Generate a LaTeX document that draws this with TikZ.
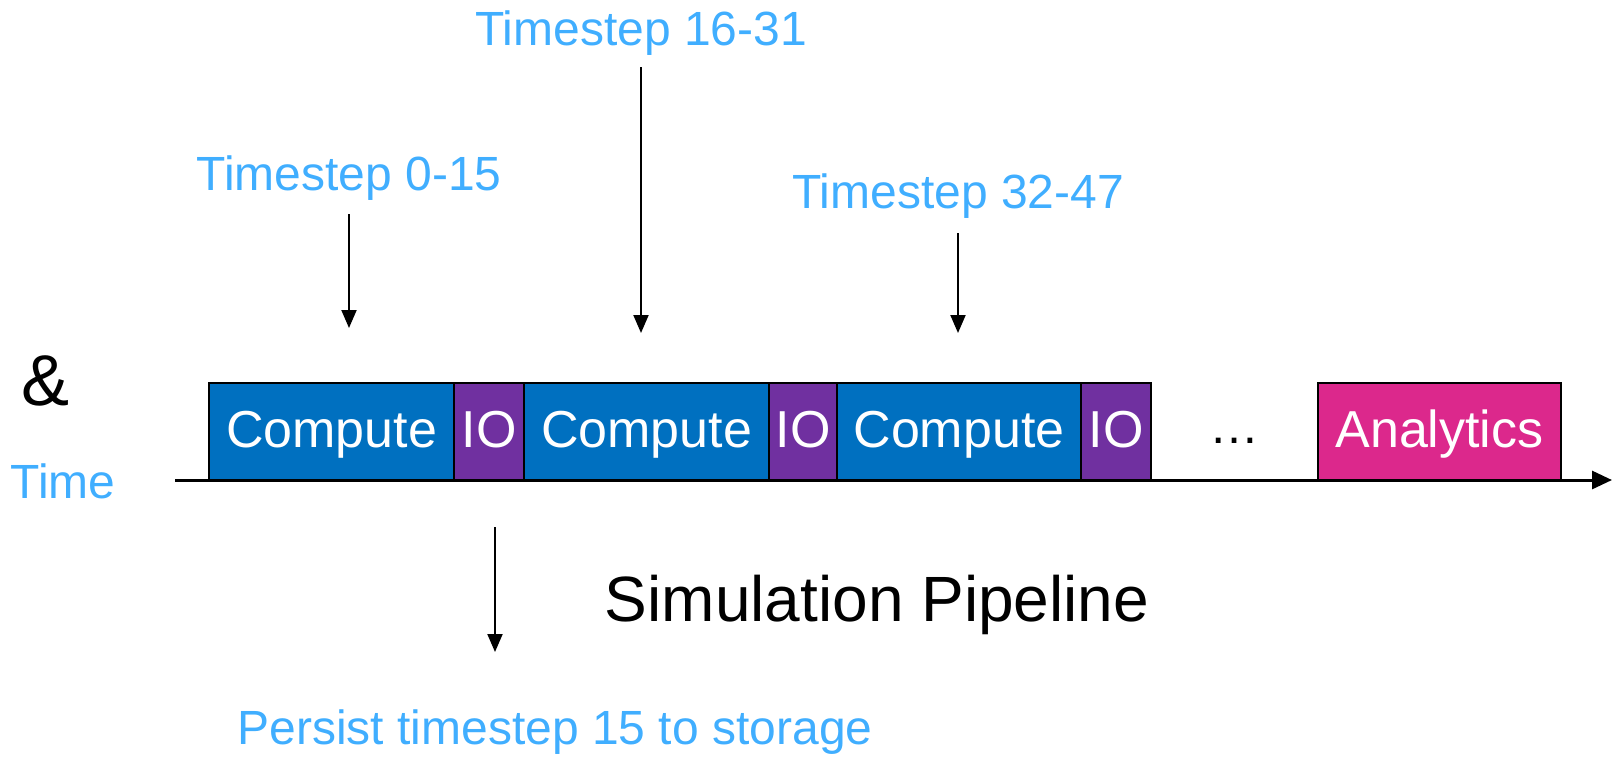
\documentclass[tikz,border=0pt]{standalone}
\usepackage{fontspec}
\setmainfont{Liberation Sans}
\usetikzlibrary{arrows.meta}
\definecolor{cblue}{HTML}{0070C0}
\definecolor{iopurple}{HTML}{7030A0}
\definecolor{anpink}{HTML}{DC288C}
\definecolor{lblue}{HTML}{40AEFF}
\begin{document}
\begin{tikzpicture}[x=1pt,y=-1pt,
  blk/.style={draw=black, line width=2.5pt, minimum height=97pt, inner sep=0pt, text=white, font=\fontsize{52}{60}\selectfont, text height=37pt, text depth=6pt},
  cbox/.style={blk, fill=cblue},
  iobox/.style={blk, fill=iopurple},
  anbox/.style={blk, fill=anpink},
  lbl/.style={text=lblue, inner sep=0pt, font=\fontsize{48}{56}\selectfont},
  arr/.style={line width=2pt, -{Triangle[width=15pt,length=18pt]}},
  axisarr/.style={line width=3pt, -{Triangle[width=18pt,length=20pt]}}
]
\useasboundingbox (0,0) rectangle (1614,756);
% axis
\coordinate (ax0) at (175,480);
\coordinate (ax1) at (1612,480);
\draw[axisarr] (ax0) -- (ax1);
% boxes
\node[cbox, minimum width=245pt] (c1) at (331.5,431.5) {Compute};
\node[iobox, minimum width=70pt] (io1) at (489,431.5) {IO};
\node[cbox, minimum width=245pt] (c2) at (646.5,431.5) {Compute};
\node[iobox, minimum width=68pt] (io2) at (803,431.5) {IO};
\node[cbox, minimum width=244pt] (c3) at (959,431.5) {Compute};
\node[iobox, minimum width=70pt] (io3) at (1116,431.5) {IO};
\node[inner sep=0pt, font=\fontsize{50}{56}\selectfont] (dots) at (1234,441) {…};
\node[anbox, minimum width=243pt] (an) at (1439.5,431.5) {Analytics};
% left labels
\node[inner sep=0pt, font=\fontsize{72}{80}\selectfont] (amp) at (46,381) {\&};
\node[lbl] (time) at (63,481) {Time};
% top labels and arrows
\node[lbl] (t1) at (349,178) {Timestep 0-15};
\node[lbl] (t2) at (641,33) {Timestep 16-31};
\node[lbl] (t3) at (958,196) {Timestep 32-47};
\coordinate (a1s) at (349,214);
\coordinate (a1e) at (349,328);
\coordinate (a2s) at (641,67);
\coordinate (a2e) at (641,333);
\coordinate (a3s) at (958,233);
\coordinate (a3e) at (958,333);
\draw[arr] (a1s) -- (a1e);
\draw[arr] (a2s) -- (a2e);
\draw[arr] (a3s) -- (a3e);
% bottom
\coordinate (a4s) at (495,527);
\coordinate (a4e) at (495,652);
\draw[arr] (a4s) -- (a4e);
\node[lbl] (persist) at (555,732) {Persist timestep 15 to storage};
\node[inner sep=0pt, font=\fontsize{64}{72}\selectfont] (sim) at (877,605) {Simulation Pipeline};
\end{tikzpicture}
\end{document}
